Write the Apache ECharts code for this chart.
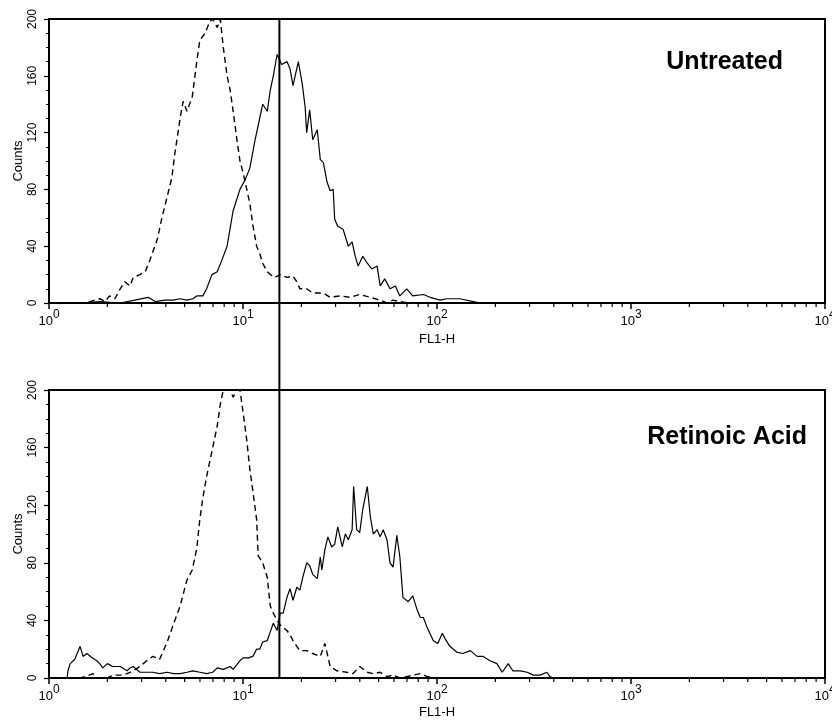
<!DOCTYPE html>
<html><head><meta charset="utf-8">
<script src="https://cdn.jsdelivr.net/npm/echarts@6/dist/echarts.min.js"></script>
<style>html,body{margin:0;padding:0;background:#fff}#c{width:832px;height:723px}</style>
</head><body><div id="c"></div>
<script>
// Data: [channel (1024 channels over 4 decades), count]
const untreatedStained = [[0,0],[41,0],[67,1],[94,0],[113,2],[131,4],[140,1],[153,2],[164,2],[173,3],[182,2],[190,3],[195,5],[203,5],[208,10],[215,20],[222,22],[228,30],[235,40],[243,65],[252,80],[259,87],[265,95],[272,115],[276,125],[282,140],[288,135],[292,150],[296,160],[301,175],[307,168],[314,170],[318,165],[322,153],[329,170],[334,155],[338,138],[340,120],[344,136],[348,115],[354,122],[358,101],[362,99],[367,85],[371,79],[375,80],[377,59],[381,54],[388,52],[395,40],[400,43],[404,33],[408,26],[414,33],[420,28],[426,24],[433,26],[437,12],[443,17],[450,10],[457,12],[463,5],[472,10],[480,5],[494,6],[503,4],[516,2],[525,3],[542,3],[560,1],[569,0],[1024,0]];
const untreatedControl = [[0,0],[48,0],[54,1],[67,3],[74,1],[80,5],[87,3],[94,10],[100,15],[107,12],[111,18],[120,20],[127,22],[133,30],[143,45],[149,60],[156,75],[162,88],[166,105],[173,130],[177,142],[182,135],[189,145],[195,170],[199,185],[206,190],[212,198],[216,200],[222,194],[226,200],[230,180],[235,160],[239,150],[243,135],[248,115],[252,100],[256,92],[261,80],[265,70],[269,55],[274,40],[278,35],[282,28],[288,22],[292,20],[298,18],[305,20],[309,19],[314,18],[322,19],[327,15],[331,10],[340,10],[348,7],[362,7],[371,4],[384,5],[397,4],[410,6],[424,4],[437,2],[446,0],[454,2],[463,1],[476,0]];
const raStained = [[0,0],[24,0],[25,5],[28,10],[34,13],[38,18],[41,22],[45,15],[50,17],[57,14],[63,12],[67,10],[71,7],[77,10],[84,8],[94,8],[103,5],[107,7],[111,8],[120,4],[129,4],[137,4],[146,3],[156,4],[164,3],[173,3],[182,4],[190,5],[199,4],[208,3],[216,4],[222,7],[230,6],[239,8],[243,6],[252,12],[256,14],[263,14],[269,15],[274,20],[278,20],[282,25],[288,26],[292,32],[296,38],[301,33],[305,45],[309,45],[314,56],[318,62],[322,54],[327,63],[331,61],[335,70],[340,80],[344,78],[348,72],[354,69],[358,84],[360,75],[364,89],[368,98],[373,91],[377,93],[381,105],[387,91],[391,100],[395,96],[400,103],[402,133],[406,103],[410,101],[414,117],[420,133],[424,112],[428,100],[433,103],[437,98],[441,103],[446,96],[450,80],[454,77],[459,99],[463,84],[467,56],[474,53],[480,57],[486,47],[490,42],[494,42],[499,35],[507,26],[513,24],[519,31],[523,27],[529,22],[538,18],[546,17],[556,19],[565,15],[573,15],[582,12],[591,10],[598,4],[606,10],[612,5],[622,5],[631,4],[639,2],[648,2],[657,4],[661,1],[665,0],[1024,0]];
const raControl = [[0,0],[41,0],[48,1],[58,3],[63,0],[77,0],[84,2],[94,2],[103,3],[111,5],[120,8],[129,12],[137,15],[146,13],[156,25],[164,37],[173,50],[182,68],[189,75],[195,90],[199,110],[203,125],[208,140],[216,160],[222,175],[226,190],[230,200],[239,200],[243,195],[248,200],[252,200],[256,185],[261,165],[265,145],[269,130],[274,110],[276,85],[282,80],[288,70],[292,50],[296,45],[301,40],[305,37],[309,35],[314,33],[318,30],[322,26],[327,22],[331,19],[340,19],[348,17],[358,15],[364,24],[371,8],[380,5],[393,4],[401,3],[410,8],[420,4],[428,3],[437,4],[446,1],[454,2],[463,0],[472,1],[490,3],[499,1],[509,0],[665,0]];
const gateValue = 15.4;
const panelTitles = ['Untreated', 'Retinoic Acid'];
const xName = 'FL1-H';
const yName = 'Counts';
const decadeStarts = [1, 10, 100, 1000];
const minorMultipliers = [2, 3, 4, 5, 6, 7, 8, 9];

const CH_PER_DECADE = 256;
const toPoints = arr => arr.map(p => [Math.pow(10, p[0] / CH_PER_DECADE), p[1]]);
const minorTicks = [];
decadeStarts.forEach(d => minorMultipliers.forEach(m => minorTicks.push([d * m, 0])));

const FONT = 'Liberation Sans, Arial, Helvetica, sans-serif';
const black = '#000';

function xAxisFor(gi, nameGap) {
  return {
    gridIndex: gi, type: 'log', logBase: 10, min: 1, max: 10000,
    name: xName, nameLocation: 'middle', nameGap: nameGap, nameMoveOverlap: false,
    nameTextStyle: {fontSize: 13, color: black, fontFamily: FONT},
    axisLine: {lineStyle: {color: black, width: 2}},
    axisTick: {length: 6, lineStyle: {color: black, width: 1.5}},
    axisLabel: {
      margin: 6, color: black, fontFamily: FONT,
      formatter: v => '{b|10}{s|' + Math.round(Math.log10(v)) + '}',
      rich: {
        b: {fontSize: 13, fontFamily: FONT, color: black, padding: [6, 0, 0, 0]},
        s: {fontSize: 12, fontFamily: FONT, color: black, verticalAlign: 'top'}
      }
    },
    splitLine: {show: false}
  };
}
function yAxisFor(gi) {
  return {
    gridIndex: gi, type: 'value', min: 0, max: 200, interval: 40,
    name: yName, nameLocation: 'middle', nameGap: 24, nameMoveOverlap: false,
    nameTextStyle: {fontSize: 13, color: black, fontFamily: FONT},
    axisLine: {show: true, lineStyle: {color: black, width: 2}},
    axisTick: {show: true, length: 5, lineStyle: {color: black, width: 1.2}},
    minorTick: {show: true, splitNumber: 4, length: 3, lineStyle: {color: black, width: 1}},
    axisLabel: {rotate: 90, margin: 10, fontSize: 12, color: black, fontFamily: FONT},
    splitLine: {show: false}
  };
}
function lineSeries(data, gi, dashed) {
  return {
    type: 'line', xAxisIndex: gi, yAxisIndex: gi, data: toPoints(data),
    showSymbol: false, symbol: 'none', silent: true, z: 3,
    lineStyle: {color: black, width: dashed ? 1.4 : 1.2, type: dashed ? [6, 4] : 'solid'}
  };
}
function minorTickSeries(gi) {
  return {
    type: 'custom', xAxisIndex: gi, yAxisIndex: gi, data: minorTicks, silent: true, clip: false,
    encode: {x: 0, y: 1}, z: 4,
    renderItem: (params, api) => {
      const p = api.coord([api.value(0), 0]);
      return {type: 'line', shape: {x1: p[0], y1: p[1], x2: p[0], y2: p[1] + 4},
              style: {stroke: black, lineWidth: 1.2}};
    }
  };
}

const chart = echarts.init(document.getElementById('c'), null, {renderer: 'canvas'});
chart.setOption({
  animation: false,
  backgroundColor: '#fff',
  title: [
    {text: panelTitles[0], right: 49, top: 50, padding: 0,
     textStyle: {fontSize: 25, fontWeight: 'bold', color: black, fontFamily: FONT}},
    {text: panelTitles[1], right: 25, top: 425, padding: 0,
     textStyle: {fontSize: 25, fontWeight: 'bold', color: black, fontFamily: FONT}}
  ],
  grid: [
    {left: 49, right: 7, top: 19, bottom: 420, show: true, borderColor: black, borderWidth: 2,
     backgroundColor: 'transparent', containLabel: false, outerBoundsMode: 'none'},
    {left: 49, right: 7, top: 390, bottom: 45, show: true, borderColor: black, borderWidth: 2,
     backgroundColor: 'transparent', containLabel: false, outerBoundsMode: 'none'},
    {left: 49, right: 7, top: 19, bottom: 45, show: false, containLabel: false, outerBoundsMode: 'none'}
  ],
  xAxis: [
    xAxisFor(0, 30), xAxisFor(1, 28),
    {gridIndex: 2, type: 'log', logBase: 10, min: 1, max: 10000, show: false}
  ],
  yAxis: [
    yAxisFor(0), yAxisFor(1),
    {gridIndex: 2, type: 'value', min: 0, max: 1, show: false}
  ],
  series: [
    lineSeries(untreatedControl, 0, true),
    lineSeries(untreatedStained, 0, false),
    lineSeries(raControl, 1, true),
    lineSeries(raStained, 1, false),
    minorTickSeries(0),
    minorTickSeries(1),
    {type: 'line', xAxisIndex: 2, yAxisIndex: 2, data: [[gateValue, 0], [gateValue, 1]],
     showSymbol: false, symbol: 'none', silent: true, z: 5,
     lineStyle: {color: black, width: 2}}
  ]
});
</script>
</body></html>
